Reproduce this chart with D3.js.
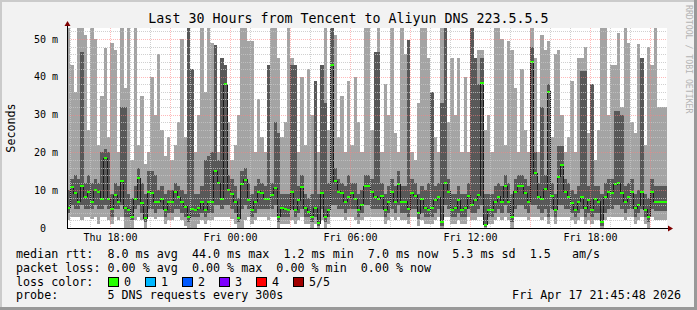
<!DOCTYPE html>
<html>
<head>
<meta charset="utf-8">
<script src="https://cdn.jsdelivr.net/npm/d3@7"></script>
<style>
  body { margin: 0; background: #f2f2f2; }
  svg text { font-family: "DejaVu Sans Mono", monospace; white-space: pre; }
</style>
</head>
<body>
<div id="chart"></div>
<script>
// Smokeping style latency graph, 10 minute columns over 30 hours

const svgWidth = 697;
const svgHeight = 310;

const chartMargin = { top: 28, left: 67 };
const chartWidth = 600;
const chartHeight = 200;

// data (ms)
const maxRtt = [53,43,36,53,53,51,26,53,50,22,
  35,47.5,24,49,47,20,53,37,53,18,
  53,22,35,17,20,40,30,46,26,19,
  24,18,22,28,50,24,53,42,20,30,
  53,36,53,49,48.5,20,45,43,28,18,
  22,30,53,53,49.5,49.5,20,34,24,20,
  43,53,53,45,24,28,53,45,43,20,
  40,22,42,30,39,20,43,53,26,53,
  51,24,35,20,39,22,40,28,20,53,
  53,26,46.5,53,20,38,30,53,25,20,
  53,46,49.7,20,18,33,53,53,45,36,
  24,20,53,53,28,45,30,45,20,40,
  20,53,45,47,47,26,30,20,53,53,
  50,22,49.5,47,37,20,42,26,20,53,
  45,20,51,47,49.5,24,46,47,30,20,
  24,39,20,45,45,48,25,38,18,26,
  53,53,30,43,43,51.5,32,53,49,28,
  25,48.7,45,22,48,43,53,32,32,32];

const upperRtt = [10,13,14,13,46.5,12,14,12,13,12,
  20,21,20,9,12,11,32,32,9,8,
  11,16,12,9,15,15,14,10,11,9,
  10,10,12,11,10,9,53,42,9,9,
  11,18,19,20,48.5,18,45,43,14,13,
  11,8,15,16,12,9,11,13,12,11,
  43,12,28,25,9,9,9,43,43,11,
  14,9,8,9,39,9,43,33,12,53,
  16,13,12,11,14,12,12,9,10,14,
  14,13,46.5,46.5,12,9,11,13,11,15,
  11,11,49.7,13,12,9,11,10,12,36,
  11,12,33,53,13,9,9,11,9,9,
  12,53,45,38,45,9,9,9,11,12,
  11,14,12,9,13,14,14,13,11,48,
  20,12,32,14,38,12,9,21.7,21.7,13,
  12,10,9,11,41.5,41.5,11,38,11,11,
  9,12,13,13,31,31,30,11,12,13,
  9,10,45,9,8,13,11,11,11,11];

const medianRtt = [5.2,10.8,9.2,7,11,8.3,9.6,7,10,9.6,
  7.8,18.4,7.6,5,8.7,7,12.3,5.2,4.8,3,
  7.6,13.1,6.5,2.6,9.6,9.2,7,7,7.6,4.8,
  7,7,9.6,8.1,7,5.6,2.8,5,4.8,5.2,
  7,4.8,7,7,15,11.8,7.8,38,10,9,
  7,2.6,11.6,12.7,7.4,4.8,7,9.6,9.2,7.8,
  7.8,8.7,10.5,3,5.2,5,4.8,9.6,4.8,7.4,
  10.9,5.2,4.3,3,5.2,1.2,9.3,3,4.8,43,
  12.3,9.6,9.3,7,8.1,9.3,7.8,4.8,6,11,
  11,9.6,8.3,7.8,8.5,4.8,7,9.6,7,11.6,
  7,7,5,9.3,8.5,3.9,7.6,5.2,4.8,5.2,
  7.4,8.1,1.7,11.8,9.6,4.8,5.2,7.4,4.8,5.2,
  8.5,6,7.4,8.7,38.3,0.8,4.8,4.8,7,8.3,
  7,11,7,3,9.6,11,11,9.2,7,44,
  14.5,8.3,7.6,10.2,36,8.5,4.8,13.6,16.7,9.6,
  8.3,6.5,4.8,7,8.3,5.2,7.4,4.8,7.8,7,
  1.7,8.1,9.6,9.3,11.6,11.8,9.2,7,8.3,9.6,
  5.2,6,9.6,4.8,3,9.6,7,7,7,7];

const lowerRtt = [4,6,5,5,6,5,5,5,6,5,
  5,6,5,3,5,5,6,3,3,2,
  5,6,4,1.5,5,5,4,5,5,3,
  4,4,5,5,4,3,1.5,3,3,3,
  4,3,4,4,6,6,5,6,6,5,
  4,1.5,5,6,5,3,4,5,5,5,
  5,5,6,1.5,3,3,3,5,3,4,
  5,3,3,1.5,3,0.5,5,1.5,3,6,
  6,5,5,4,5,5,5,3,4,6,
  6,5,5,5,5,3,4,5,4,6,
  4,4,3,5,5,2.5,4,3,3,3,
  4,5,0.5,6,5,3,3,4,3,3,
  5,4,4,5,6,0.3,3,3,4,5,
  4,6,4,1.5,5,6,6,5,4,6,
  6,5,4,5,3,5,3,6,6,5,
  5,4,3,4,5,3,4,3,4,4,
  0.5,4,5,5,6,6,5,4,5,5,
  3,4,5,3,1.5,5,4.5,4.5,4.5,4.5];

const minRtt = [2,3,3,3,2,3,3,2.5,3,1,
  3,3,2,1,3,2,3,0,0,0,
  2,3,2,0,3,3,2.5,3,3,1,
  2,2,3,3,2,0.5,0,0,0,1,
  2,1,2,2,3,3,3,3,3,2.5,
  1,0,0,2,3,1,2,3,3,3,
  2,3,3,0,1,1,1,2,1,2,
  3,1,1,0,1,0,2,0,1,3,
  3,3,3,2,3,3,2,1,2,3,
  3,3,3,3,3,1,2,3,2,3,
  2,2,1,3,3,0.5,2,1,1,1,
  2,3,0,3,3,1,1,2,1,1,
  3,2,2,3,3,0,1,1,2,3,
  2,3,2,0,3,3,3,3,2,3,
  3,3,2,3,1,3,1,3,3,3,
  3,2,1,2,3,1,2,1,2,2,
  0,2,3,3,3,3,3,2,3,3,
  1,2,3,1,0,3,2,2,2,2];

const lossLabels = ["0", "1", "2", "3", "4", "5/5"];
const lossColors = ["#26ff00", "#00b8ff", "#0059ff", "#7e00ff", "#ff0000", "#a10000"];

const titleText = "Last 30 Hours from Tencent to Aliyun DNS 223.5.5.5";
const legendLines = [
  "median rtt:  8.0 ms avg  44.0 ms max  1.2 ms min  7.0 ms now  5.3 ms sd  1.5   am/s",
  "packet loss: 0.00 % avg  0.00 % max  0.00 % min  0.00 % now",
  "loss color:",
  "probe:       5 DNS requests every 300s"
];
const stampText = "Fri Apr 17 21:45:48 2026";

const startTime = Date.UTC(2026, 3, 16, 15, 51);
const stepMs = 10 * 60 * 1000;
const spanMs = 30 * 3600 * 1000;

const rows = medianRtt.map((m, i) => ({
  t: new Date(startTime + i * stepMs),
  max: maxRtt[i], hi: upperRtt[i], med: m, lo: lowerRtt[i], min: minRtt[i]
}));
// extra point so the last step gets drawn
const last = rows[rows.length - 1];
rows.push(Object.assign({}, last, { t: new Date(startTime + rows.length * stepMs) }));

const svg = d3.select('#chart')
  .append('svg')
  .attr('width', svgWidth)
  .attr('height', svgHeight);

// background + 3d frame
svg.append('rect').attr('width', svgWidth).attr('height', svgHeight).attr('fill', '#f2f2f2');
svg.append('path').attr('fill', '#cbcbcb')
  .attr('d', `M0,0H${svgWidth}V2H2V${svgHeight}H0Z`);
svg.append('path').attr('fill', '#999999')
  .attr('d', `M${svgWidth},0V${svgHeight}H0V${svgHeight - 3}H${svgWidth - 3}V0Z`);

const xScale = d3.scaleUtc()
  .domain([new Date(startTime), new Date(startTime + spanMs)])
  .range([chartMargin.left, chartMargin.left + chartWidth]);

const yScale = d3.scaleLinear()
  .domain([0, 52.9])
  .range([chartMargin.top + chartHeight, chartMargin.top]);

// canvas
svg.append('rect')
  .attr('x', chartMargin.left).attr('y', chartMargin.top)
  .attr('width', chartWidth).attr('height', chartHeight)
  .attr('fill', '#ffffff');

svg.append('clipPath').attr('id', 'plotClip')
  .append('rect')
  .attr('x', chartMargin.left).attr('y', chartMargin.top)
  .attr('width', chartWidth).attr('height', chartHeight);

const plotGroup = svg.append('g').attr('clip-path', 'url(#plotClip)');

// smoke
const smoke = (lowKey, highKey) => d3.area()
  .curve(d3.curveStepAfter)
  .x(d => xScale(d.t))
  .y0(d => yScale(d[lowKey]))
  .y1(d => yScale(d[highKey]));

plotGroup.append('path').datum(rows)
  .attr('d', smoke('min', 'max'))
  .attr('fill', '#a4a4a4')
  .attr('shape-rendering', 'crispEdges');

plotGroup.append('path').datum(rows)
  .attr('d', smoke('lo', 'hi'))
  .attr('fill', '#585858')
  .attr('shape-rendering', 'crispEdges');

// grid, drawn faint over the smoke
const gridGroup = svg.append('g').attr('shape-rendering', 'crispEdges');
const minorY = d3.range(2, 53, 2).filter(v => v % 10 !== 0);
const majorY = d3.range(10, 53, 10);
const hourTicks = xScale.ticks(d3.utcHour.every(1));
const majorX = xScale.ticks(d3.utcHour.every(3));
const labelX = xScale.ticks(d3.utcHour.every(6));

gridGroup.selectAll('line.gy')
  .data(minorY).enter().append('line')
  .attr('x1', chartMargin.left).attr('x2', chartMargin.left + chartWidth)
  .attr('y1', d => Math.round(yScale(d)) + 0.5).attr('y2', d => Math.round(yScale(d)) + 0.5)
  .attr('stroke', '#c4c4c4').attr('stroke-opacity', 0.8).attr('stroke-dasharray', '1,1');

gridGroup.selectAll('line.gx')
  .data(hourTicks.filter(t => t.getUTCHours() % 3 !== 0)).enter().append('line')
  .attr('y1', chartMargin.top).attr('y2', chartMargin.top + chartHeight)
  .attr('x1', d => Math.round(xScale(d)) + 0.5).attr('x2', d => Math.round(xScale(d)) + 0.5)
  .attr('stroke', '#c4c4c4').attr('stroke-opacity', 0.8).attr('stroke-dasharray', '1,1');

gridGroup.selectAll('line.my')
  .data(majorY).enter().append('line')
  .attr('x1', chartMargin.left).attr('x2', chartMargin.left + chartWidth)
  .attr('y1', d => Math.round(yScale(d)) + 0.5).attr('y2', d => Math.round(yScale(d)) + 0.5)
  .attr('stroke', '#ff8080').attr('stroke-opacity', 0.55).attr('stroke-dasharray', '1,1');

gridGroup.selectAll('line.mx')
  .data(majorX).enter().append('line')
  .attr('y1', chartMargin.top).attr('y2', chartMargin.top + chartHeight)
  .attr('x1', d => Math.round(xScale(d)) + 0.5).attr('x2', d => Math.round(xScale(d)) + 0.5)
  .attr('stroke', '#ff8080').attr('stroke-opacity', 0.55).attr('stroke-dasharray', '1,1');

// median line
plotGroup.append('path').datum(rows)
  .attr('d', d3.line().curve(d3.curveStepAfter).x(d => xScale(d.t)).y(d => yScale(d.med)))
  .attr('fill', 'none')
  .attr('stroke', '#1a1a1a')
  .attr('stroke-width', 1)
  .attr('shape-rendering', 'crispEdges');

// loss colour marks on the median
plotGroup.selectAll('rect.med')
  .data(rows.slice(0, -1))
  .enter()
  .append('rect')
  .attr('class', 'med')
  .attr('x', d => xScale(d.t))
  .attr('width', d => xScale(new Date(+d.t + stepMs)) - xScale(d.t))
  .attr('y', d => yScale(d.med) - 1)
  .attr('height', 2)
  .attr('fill', lossColors[0])
  .attr('shape-rendering', 'crispEdges');

// axes
const xAxis = d3.axisBottom(xScale)
  .tickValues(labelX)
  .tickFormat(d3.utcFormat('%a %H:%M'))
  .tickSize(0)
  .tickPadding(6);

const yAxis = d3.axisLeft(yScale)
  .tickValues([0, 10, 20, 30, 40, 50])
  .tickFormat(d => d === 0 ? '0  ' : d + ' m')
  .tickSize(0)
  .tickPadding(9);

const xg = svg.append('g')
  .attr('transform', `translate(0, ${chartMargin.top + chartHeight})`)
  .call(xAxis);
const yg = svg.append('g')
  .attr('transform', `translate(${chartMargin.left}, 0)`)
  .call(yAxis);

[xg, yg].forEach(g => {
  g.select('.domain').remove();
  g.selectAll('text')
    .style('font-family', '"DejaVu Sans Mono", monospace')
    .style('font-size', '10px')
    .attr('fill', '#000');
});

svg.append('line')
  .attr('x1', chartMargin.left).attr('x2', chartMargin.left + chartWidth + 2)
  .attr('y1', chartMargin.top + chartHeight + 0.5).attr('y2', chartMargin.top + chartHeight + 0.5)
  .attr('stroke', '#000');
svg.append('line')
  .attr('x1', chartMargin.left + 0.5).attr('x2', chartMargin.left + 0.5)
  .attr('y1', chartMargin.top + chartHeight).attr('y2', chartMargin.top - 2)
  .attr('stroke', '#000');

const xEnd = chartMargin.left + chartWidth;
const yBase = chartMargin.top + chartHeight + 0.5;
svg.append('path').attr('fill', '#7f0000')
  .attr('d', `M${xEnd + 1},${yBase - 3}L${xEnd + 6},${yBase}L${xEnd + 1},${yBase + 3}Z`);
svg.append('path').attr('fill', '#7f0000')
  .attr('d', `M${chartMargin.left - 2.5},${chartMargin.top - 2}L${chartMargin.left + 0.5},${chartMargin.top - 7}L${chartMargin.left + 3.5},${chartMargin.top - 2}Z`);

// titles
svg.append('text')
  .text(titleText)
  .attr('x', svgWidth / 2)
  .attr('y', 23)
  .attr('text-anchor', 'middle')
  .style('font-size', '13.3px');

svg.append('text')
  .text('Seconds')
  .attr('text-anchor', 'middle')
  .attr('transform', 'translate(15, 128) rotate(-90)')
  .style('font-size', '11.7px');

svg.append('text')
  .text('RRDTOOL / TOBI OETIKER')
  .attr('transform', 'translate(686, 5) rotate(90)')
  .attr('fill', '#b4b4b4')
  .style('font-size', '8.2px');

// legend
const legendY = [258, 272, 285.5, 299];
legendLines.forEach((line, i) => {
  svg.append('text')
    .text(line)
    .attr('x', 16)
    .attr('y', legendY[i])
    .style('font-size', '11.7px');
});

const lossGroup = svg.append('g');
lossLabels.forEach((lab, i) => {
  lossGroup.append('rect')
    .attr('x', 108.5 + i * 37).attr('y', 277.5)
    .attr('width', 10).attr('height', 9)
    .attr('fill', lossColors[i])
    .attr('stroke', '#000')
    .attr('shape-rendering', 'crispEdges');
  lossGroup.append('text')
    .text(lab)
    .attr('x', 124 + i * 37)
    .attr('y', legendY[2])
    .style('font-size', '11.7px');
});

svg.append('text')
  .text(stampText)
  .attr('x', 681)
  .attr('y', legendY[3])
  .attr('text-anchor', 'end')
  .style('font-size', '11.7px');
</script>
</body>
</html>
